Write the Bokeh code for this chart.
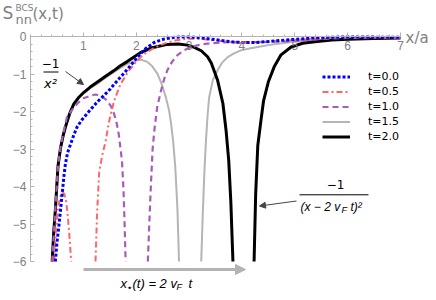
from bokeh.plotting import figure
from bokeh.models import Range1d, FixedTicker, Legend, LegendItem, Label, Arrow, NormalHead
from bokeh.embed import file_html
from bokeh.resources import INLINE

nan = float("nan")

series_labels = ["t=0.0", "t=0.5", "t=1.0", "t=1.5", "t=2.0"]

# t = 0.0 (blue dotted)
x_t00 = [0.47, 0.50, 0.535, 0.57, 0.60, 0.63, 0.66, 0.70, 0.76, 0.82, 0.88, 0.97, 1.07, 1.18, 1.29,
         1.40, 1.51, 1.60, 1.70, 1.80, 1.92, 2.02, 2.18, 2.34, 2.52, 2.72, 2.90, 3.10, 3.30, 3.48,
         3.68, 3.86, 4.05, 4.24, 4.45, 4.62, 4.85, 5.06, 5.35, 5.69, 6.00, 6.32, 6.66, 7.00]
y_t00 = [-6.0, -5.5, -5.08, -4.6, -4.19, -3.75, -3.4, -3.1, -2.86, -2.62, -2.41, -2.22, -2.05, -1.87, -1.70,
         -1.55, -1.39, -1.24, -1.08, -0.92, -0.72, -0.54, -0.31, -0.15, -0.06, -0.01, 0.0, -0.01, -0.04, -0.07,
         -0.11, -0.14, -0.15, -0.15, -0.13, -0.11, -0.08, -0.06, -0.03, -0.01, 0.0, 0.0, -0.01, -0.01]

# t = 0.5 (red dash-dot)
x_t05 = [0.45, 0.48, 0.52, 0.56, 0.60, 0.64, 0.67, 0.70, 0.73, 0.77, nan,
         1.23, 1.26, 1.30, 1.36, 1.42, 1.48, 1.58, 1.70, 1.86, 1.99, 2.10, 2.21, 2.36,
         2.53, 2.75, 2.97, 3.20, 3.48, 3.75, 3.98, 4.25, 4.55, 4.80, 5.06, 5.40, 5.82, 6.20, 6.60, 7.00]
y_t05 = [-6.0, -5.2, -4.6, -4.28, -4.15, -4.2, -4.35, -4.7, -5.2, -6.0, nan,
         -6.0, -4.7, -3.6, -3.15, -2.8, -2.3, -1.72, -1.27, -0.90, -0.68, -0.52, -0.40, -0.28,
         -0.18, -0.09, -0.05, -0.05, -0.09, -0.13, -0.16, -0.15, -0.12, -0.10, -0.08, -0.04, 0.0, 0.0, -0.01, -0.02]

# t = 1.0 (purple dashed)
x_t10 = [0.41, 0.47, 0.52, 0.57, 0.62, 0.69, 0.80, 0.88, 1.00, 1.14, 1.23, 1.33, 1.45, 1.52,
         1.58, 1.63, 1.67, 1.70, 1.73, 1.76, 1.78, 1.80, nan,
         2.22, 2.25, 2.28, 2.31, 2.35, 2.40, 2.47, 2.53, 2.59, 2.68, 2.78, 2.90, 3.04, 3.20, 3.35,
         3.60, 3.80, 4.05, 4.30, 4.60, 4.85, 5.06, 5.40, 5.69, 6.00, 6.50, 7.00]
y_t10 = [-6.0, -4.6, -3.45, -2.93, -2.58, -2.14, -1.92, -1.79, -1.64, -1.57, -1.54, -1.57, -1.70, -1.85,
         -2.05, -2.3, -2.6, -2.95, -3.3, -4.1, -5.0, -6.0, nan,
         -6.0, -4.9, -3.9, -3.0, -2.4, -1.85, -1.43, -1.12, -0.89, -0.66, -0.49, -0.36, -0.27, -0.21, -0.18,
         -0.15, -0.14, -0.14, -0.14, -0.13, -0.12, -0.10, -0.07, -0.04, -0.03, -0.02, -0.03]

# t = 1.5 (gray solid)
x_t15 = [0.41, 0.45, 0.50, 0.57, 0.62, 0.70, 0.80, 0.90, 1.00, 1.13, 1.27, 1.40, 1.55, 1.70, 1.85,
         1.98, 2.09, 2.20, 2.30, 2.40, 2.48, 2.56, 2.62, 2.66, 2.70, 2.74, 2.78, 2.81, nan,
         3.23, 3.26, 3.29, 3.32, 3.35, 3.38, 3.45, 3.54, 3.63, 3.73, 3.85, 3.98, 4.14, 4.30, 4.50,
         4.68, 4.90, 5.20, 5.50, 6.00, 6.50, 7.00]
y_t15 = [-6.0, -4.95, -3.75, -3.0, -2.68, -2.25, -1.86, -1.64, -1.52, -1.37, -1.25, -1.11, -0.97, -0.83, -0.71,
         -0.64, -0.61, -0.66, -0.78, -0.98, -1.25, -1.61, -1.95, -2.32, -2.8, -3.5, -4.6, -6.0, nan,
         -6.0, -4.7, -3.6, -2.76, -2.1, -1.61, -1.15, -0.89, -0.68, -0.54, -0.44, -0.36, -0.31, -0.27, -0.22,
         -0.18, -0.14, -0.10, -0.08, -0.05, -0.04, -0.03]

# t = 2.0 (black solid)
x_t20 = [0.41, 0.44, 0.47, 0.52, 0.57, 0.62, 0.66, 0.74, 0.82, 0.91, 1.01, 1.13, 1.26, 1.42, 1.58,
         1.70, 1.83, 2.08, 2.30, 2.59, 2.80, 2.97, 3.10, 3.23, 3.35, 3.42, 3.54, 3.64, 3.70, 3.75,
         3.79, 3.83, nan,
         4.23, 4.26, 4.30, 4.36, 4.41, 4.50, 4.61, 4.74, 4.93, 5.15, 5.38, 5.70, 6.01, 6.50, 7.00]
y_t20 = [-6.0, -5.2, -4.64, -3.45, -2.95, -2.62, -2.41, -2.05, -1.79, -1.62, -1.48, -1.34, -1.21, -1.05, -0.90,
         -0.77, -0.66, -0.42, -0.29, -0.20, -0.19, -0.22, -0.28, -0.37, -0.53, -0.70, -1.16, -1.78, -2.5, -3.3,
         -4.4, -6.0, nan,
         -6.0, -4.2, -2.9, -2.23, -1.70, -1.20, -0.80, -0.48, -0.27, -0.17, -0.13, -0.08, -0.06, -0.04, -0.03]

x_ticks = [1, 2, 3, 4, 5, 6, 7]
x_tick_labels = ["1", "2", "3", "4", "5", "6", "7"]
y_ticks = [0, -1, -2, -3, -4, -5, -6]
y_tick_labels = ["0", "\u22121", "\u22122", "\u22123", "\u22124", "\u22125", "\u22126"]

# canvas and plot-area geometry (pixels)
W, H = 428, 292
PX0, PX7 = 30.0, 400.0      # pixel of x=0 and x=7
PY0, PYM6 = 36.4, 261.0     # pixel of y=0 and y=-6
SX = (PX7 - PX0) / 7.0
SY = (PYM6 - PY0) / 6.0


def X(px):
    return (px - PX0) / SX


def Y(py):
    return -(py - PY0) / SY


p = figure(width=W, height=H, x_range=Range1d(X(0), X(W)), y_range=Range1d(Y(H), Y(0)),
           output_backend="svg", toolbar_location=None, min_border=0,
           min_border_left=0, min_border_right=0, min_border_top=0, min_border_bottom=0,
           background_fill_color="white", border_fill_color="white")
p.outline_line_color = None
p.grid.visible = False

AX = "#b3b3b3"
TXT = "#808080"

xminor = [round(i * 0.2, 2) for i in range(0, 36)]
yminor = [round(-i * 0.2, 2) for i in range(0, 31)]

xa = p.xaxis[0]
xa.fixed_location = 0
xa.bounds = (0, 7)
xa.ticker = FixedTicker(ticks=x_ticks, minor_ticks=xminor)
xa.major_label_overrides = dict(zip(x_ticks, x_tick_labels))
ya = p.yaxis[0]
ya.fixed_location = 0
ya.bounds = (-6, 0)
ya.ticker = FixedTicker(ticks=y_ticks, minor_ticks=yminor)
ya.major_label_overrides = dict(zip(y_ticks, y_tick_labels))
for ax in (xa, ya):
    ax.axis_line_color = AX
    ax.axis_line_width = 1
    ax.major_tick_line_color = AX
    ax.minor_tick_line_color = AX
    ax.major_tick_in = 4
    ax.major_tick_out = 0
    ax.minor_tick_in = 2
    ax.minor_tick_out = 0
    ax.major_label_text_color = TXT
    ax.major_label_text_font = "Liberation Sans"
    ax.major_label_text_font_size = "12px"
    ax.major_label_standoff = 4

r15 = p.line(x_t15, y_t15, line_color="#b5b5b5", line_width=2)
r20 = p.line(x_t20, y_t20, line_color="black", line_width=3)
r10 = p.line(x_t10, y_t10, line_color="#a65db5", line_width=2.2, line_dash="6 4")
r05 = p.line(x_t05, y_t05, line_color="#ff6666", line_width=2, line_dash="6 3 2 3")
r00 = p.line(x_t00, y_t00, line_color="#0000ff", line_width=3, line_dash="3 2")

renderers = [r00, r05, r10, r15, r20]
legend = Legend(items=[LegendItem(label=l, renderers=[r]) for l, r in zip(series_labels, renderers)],
                location=(322, H - 144), padding=0, margin=0, spacing=0,
                glyph_width=28, glyph_height=15, label_height=15, label_standoff=18,
                label_text_font="DejaVu Sans", label_text_font_size="11px", label_text_color="black",
                background_fill_alpha=0, border_line_alpha=0)
p.add_layout(legend)


def lab(text, px, py, size, font="DejaVu Sans", color="black", align="left", style="normal"):
    p.add_layout(Label(x=X(px), y=Y(py), text=text, text_font=font, text_font_size=size,
                       text_color=color, text_align=align, text_baseline="middle",
                       text_font_style=style))


def bar(px0, px1, py, color="black", width=1):
    p.add_layout(Arrow(end=None, x_start=X(px0), y_start=Y(py), x_end=X(px1), y_end=Y(py),
                       line_color=color, line_width=width))


def arrow(px0, py0, px1, py1, color, width, size):
    p.add_layout(Arrow(end=NormalHead(size=size, fill_color=color, line_color=color, line_width=1),
                       x_start=X(px0), y_start=Y(py0), x_end=X(px1), y_end=Y(py1),
                       line_color=color, line_width=width))


# y-axis title  S_nn^BCS(x,t)
lab("S", 2, 12, "17px", color=TXT)
lab("BCS", 15, 7.5, "9px", color=TXT)
lab("nn", 15, 19, "13px", color=TXT)
lab("(x,t)", 32, 13, "15px", color=TXT)
# x-axis title
lab("x/a", 405, 37, "15px", color=TXT)

# -1/x^2 annotation
lab("\u22121", 50, 63, "12px", align="center")
bar(43, 58, 71.5)
lab("x\u00b2", 50, 83, "13px", align="center", style="italic")
arrow(65, 71, 83, 84, "#444444", 1, 6)

# -1/(x-2 v_F t)^2 annotation
lab("\u22121", 335, 184, "12px", align="center")
bar(299, 368, 194.3)
lab("(x \u2212 2 v", 300, 206.5, "12px", font="Liberation Sans", style="italic")
lab("F", 341, 209, "9px", font="Liberation Sans", style="italic")
lab("t)\u00b2", 350, 206.5, "12px", font="Liberation Sans", style="italic")
arrow(296, 200.5, 259, 205.5, "#444444", 1, 6)

# bottom arrow x*(t) = 2 v_F t
arrow(83, 269, 245, 269, AX, 3, 10)
lab("x", 120, 283, "13px", font="Liberation Sans", style="italic")
lab("\u22c6", 126, 287, "10px")
lab("(t) = 2 v", 132, 283, "13px", font="Liberation Sans", style="italic")
lab("F", 176, 286, "9px", font="Liberation Sans", style="italic")
lab("t", 188, 283, "13px", font="Liberation Sans", style="italic")

open("out.html", "w").write(file_html(p, INLINE))
